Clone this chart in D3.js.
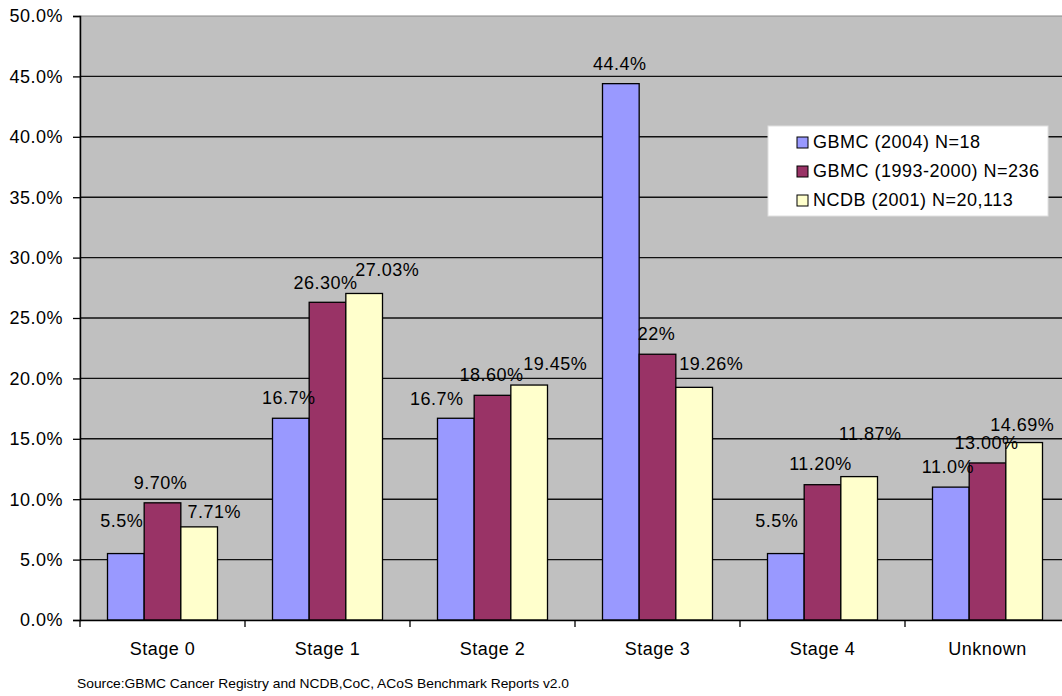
<!DOCTYPE html>
<html>
<head>
<meta charset="utf-8">
<script src="https://cdn.jsdelivr.net/npm/d3@7"></script>
<style>
  html, body { margin: 0; padding: 0; background: #ffffff; }
  svg { display: block; }
  text { font-family: "Liberation Sans", Arial, sans-serif; fill: #000; }
</style>
</head>
<body>
<svg id="chart" width="1062" height="696"></svg>
<script>
// ---- data ----
const categories = ["Stage 0", "Stage 1", "Stage 2", "Stage 3", "Stage 4", "Unknown"];
const seriesNames = ["GBMC (2004) N=18", "GBMC (1993-2000) N=236", "NCDB (2001) N=20,113"];
const gbmc2004 = [5.5, 16.7, 16.7, 44.4, 5.5, 11.0];
const gbmc1993 = [9.70, 26.30, 18.60, 22, 11.20, 13.00];
const ncdb2001 = [7.71, 27.03, 19.45, 19.26, 11.87, 14.69];
const gbmc2004Labels = ["5.5%", "16.7%", "16.7%", "44.4%", "5.5%", "11.0%"];
const gbmc1993Labels = ["9.70%", "26.30%", "18.60%", "22%", "11.20%", "13.00%"];
const ncdb2001Labels = ["7.71%", "27.03%", "19.45%", "19.26%", "11.87%", "14.69%"];
const yTicks = [0, 5, 10, 15, 20, 25, 30, 35, 40, 45, 50];
const sourceNote = "Source:GBMC Cancer Registry and NCDB,CoC, ACoS Benchmark Reports v2.0";

// ---- layout / style (not data) ----
const colors = ["#9999FF", "#993366", "#FFFFCC"];
// manual label nudges [dx, rise above bar top] as in the reference
const labelNudge = [
  [[-4, 27], [-2, 14], [-19, 13], [-1, 14], [-9, 27], [-3, 14]],
  [[-2, 14], [-2, 13], [-1, 14], [-1, 14], [-2, 15], [-1, 14]],
  [[15, 9], [23, 17], [26, 15], [17, 17], [11, 37], [-2, 12]]
];

const values = [gbmc2004, gbmc1993, ncdb2001];
const labels = [gbmc2004Labels, gbmc1993Labels, ncdb2001Labels];

const svg = d3.select("#chart");
const plot = { left: 80, right: 1070, top: 16, bottom: 620 };

const x = d3.scaleBand().domain(categories).range([plot.left, plot.right]).padding(0);
const bw = x.bandwidth();
const xs = d3.scaleBand().domain(d3.range(3)).range([bw * 1.5 / 9, bw - bw * 1.5 / 9]).padding(0);
const y = d3.scaleLinear().domain([0, 50]).range([plot.bottom, plot.top]);

// plot area
svg.append("rect")
  .attr("x", plot.left).attr("y", plot.top)
  .attr("width", plot.right - plot.left).attr("height", plot.bottom - plot.top)
  .attr("fill", "#C0C0C0").attr("stroke", "#8a8a8a").attr("stroke-width", 1);

// gridlines
svg.append("g").selectAll("line")
  .data(yTicks.filter(t => t > 0 && t < 50))
  .join("line")
  .attr("x1", plot.left).attr("x2", plot.right)
  .attr("y1", d => y(d)).attr("y2", d => y(d))
  .attr("stroke", "#111").attr("stroke-width", 1.4);

// bars
const groups = svg.append("g").selectAll("g")
  .data(values)
  .join("g");
groups.each(function (vals, si) {
  d3.select(this).selectAll("rect")
    .data(vals)
    .join("rect")
    .attr("x", (d, i) => x(categories[i]) + xs(si))
    .attr("y", d => y(d))
    .attr("width", xs.bandwidth())
    .attr("height", d => y(0) - y(d))
    .attr("fill", colors[si])
    .attr("stroke", "#000").attr("stroke-width", 1.3);
});

// y axis
const yAxis = d3.axisLeft(y).tickValues(yTicks).tickSize(7).tickPadding(10)
  .tickFormat(d => d3.format(".1f")(d) + "%");
const gy = svg.append("g").attr("transform", `translate(${plot.left},0)`).call(yAxis);
gy.select(".domain").attr("stroke", "#000").attr("stroke-width", 1.5);
gy.selectAll(".tick line").attr("stroke", "#000").attr("stroke-width", 1.3);
gy.selectAll(".tick text")
  .attr("font-size", 18).attr("letter-spacing", "0.5px")
  .attr("font-family", "Liberation Sans, Arial, sans-serif")
  .attr("fill", "#000").attr("dy", "0.33em");

// x axis
const xAxis = d3.axisBottom(x).tickSize(0).tickPadding(0);
const gx = svg.append("g").attr("transform", `translate(0,${plot.bottom})`).call(xAxis);
gx.select(".domain").attr("stroke", "#000").attr("stroke-width", 1.5);
gx.selectAll(".tick text")
  .attr("font-size", 18).attr("letter-spacing", "0.5px")
  .attr("font-family", "Liberation Sans, Arial, sans-serif")
  .attr("fill", "#000").attr("y", 35).attr("dy", 0);
// category boundary ticks
svg.append("g").selectAll("line")
  .data(categories)
  .join("line")
  .attr("x1", d => x(d)).attr("x2", d => x(d))
  .attr("y1", plot.bottom).attr("y2", plot.bottom + 7)
  .attr("stroke", "#000").attr("stroke-width", 1.3);

// data labels
values.forEach((vals, si) => {
  svg.append("g").selectAll("text")
    .data(vals)
    .join("text")
    .attr("x", (d, i) => x(categories[i]) + xs(si) + xs.bandwidth() / 2 + labelNudge[si][i][0])
    .attr("y", (d, i) => y(d) - labelNudge[si][i][1])
    .attr("text-anchor", "middle")
    .attr("font-size", 18).attr("letter-spacing", "0.5px")
    .attr("fill", "#111")
    .text((d, i) => labels[si][i]);
});

// legend
const lg = svg.append("g").attr("transform", "translate(768,126)");
lg.append("rect").attr("x", 0).attr("y", 0).attr("width", 280).attr("height", 90)
  .attr("fill", "#ffffff").attr("stroke", "#e0e0e0").attr("stroke-width", 1);
seriesNames.forEach((name, i) => {
  const by = 22 + i * 29;
  lg.append("rect").attr("x", 29).attr("y", by - 11).attr("width", 11).attr("height", 11)
    .attr("fill", colors[i]).attr("stroke", "#000").attr("stroke-width", 1);
  lg.append("text").attr("x", 45).attr("y", by)
    .attr("font-size", 18).attr("letter-spacing", "0.5px").attr("fill", "#111")
    .text(name);
});

// source note
svg.append("text").attr("x", 77).attr("y", 688)
  .attr("font-size", 13).attr("textLength", 492).attr("lengthAdjust", "spacingAndGlyphs")
  .attr("fill", "#000")
  .text(sourceNote);
</script>
</body>
</html>
